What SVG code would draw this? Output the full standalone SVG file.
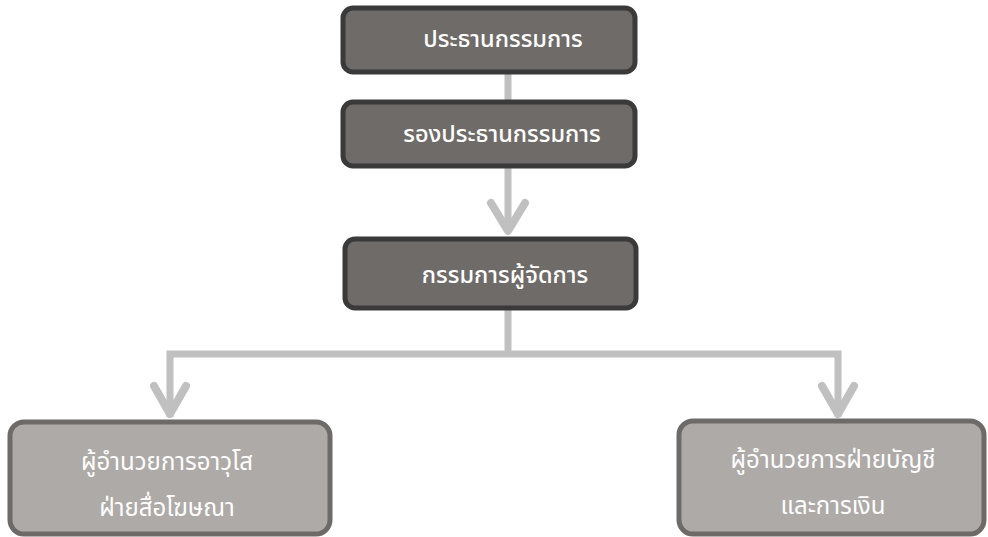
<svg xmlns="http://www.w3.org/2000/svg" width="988" height="537" viewBox="0 0 988 537">
<style>
.dark rect{fill:#6f6b69;stroke:#3a3a3a;stroke-width:5}
.light rect{fill:#aeaaa8;stroke:#6e6a68;stroke-width:5}
text{font-family:"Noto Sans Thai","Noto Sans",sans-serif;fill:#ffffff;text-anchor:middle}
.dark text{font-size:23.5px;font-weight:500}
.light text{font-size:24px}
.conn path{fill:none;stroke:#c0c0c0;stroke-width:7}
.conn .arr{stroke-width:8;stroke-linecap:round;stroke-linejoin:round}
</style>
<rect width="988" height="537" fill="#ffffff"/>
<g class="conn">
<path d="M508 72V102"/>
<path d="M508 166V230"/>
<path class="arr" d="M491 203L508 231L525 203"/>
<path d="M508 308V354"/>
<path d="M170 417V354H838V417"/>
<path class="arr" d="M154 386L170 414L186 386"/>
<path class="arr" d="M822 386L838 414L854 386"/>
</g>
<g id="n1" class="dark"><rect x="343" y="8" width="292" height="64" rx="10"/><text x="503" y="47">ประธานกรรมการ</text></g>
<g id="n2" class="dark"><rect x="343" y="102" width="292" height="64" rx="10"/><text x="502" y="142">รองประธานกรรมการ</text></g>
<g id="n3" class="dark"><rect x="345" y="239" width="291" height="69" rx="10"/><text x="505" y="283">กรรมการผู้จัดการ</text></g>
<g id="n4" class="light"><rect x="10" y="422" width="320" height="112" rx="14"/><text x="167" y="470">ผู้อำนวยการอาวุโส</text><text x="167" y="516">ฝ่ายสื่อโฆษณา</text></g>
<g id="n5" class="light"><rect x="679" y="421" width="305" height="113" rx="14"/><text x="833" y="468">ผู้อำนวยการฝ่ายบัญชี</text><text x="833" y="514">และการเงิน</text></g>
</svg>
